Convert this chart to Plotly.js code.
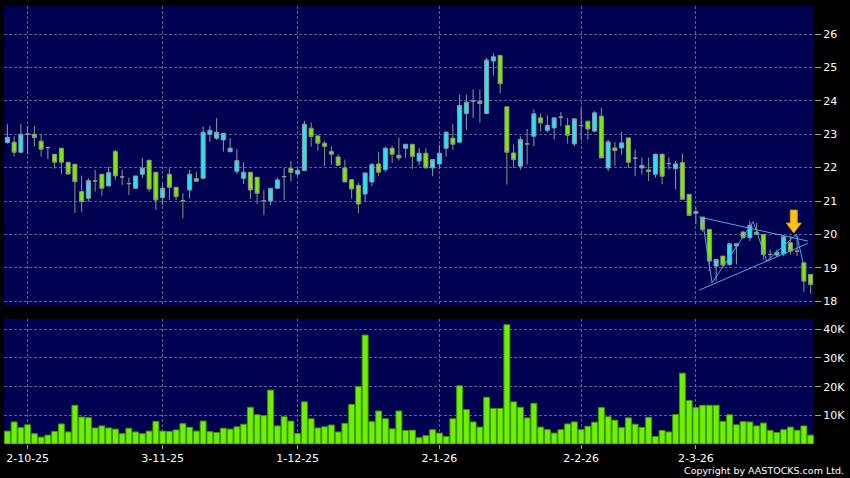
<!DOCTYPE html>
<html>
<head>
<meta charset="utf-8">
<script src="https://cdn.plot.ly/plotly-3.0.1.min.js"></script>
<style>
html,body{margin:0;padding:0;background:#000;}
#chart{width:850px;height:478px;}
</style>
</head>
<body>
<div id="chart"></div>
<script>
// Trading days (HKEX calendar) shown on the chart
const dates = [
 '2025-09-26','2025-09-29','2025-09-30',
 '2025-10-02','2025-10-03','2025-10-06','2025-10-08','2025-10-09','2025-10-10','2025-10-13','2025-10-14','2025-10-15','2025-10-16',
 '2025-10-17','2025-10-20','2025-10-21','2025-10-22','2025-10-23','2025-10-24','2025-10-27','2025-10-28','2025-10-30','2025-10-31',
 '2025-11-03','2025-11-04','2025-11-05','2025-11-06','2025-11-07','2025-11-10','2025-11-11','2025-11-12','2025-11-13','2025-11-14',
 '2025-11-17','2025-11-18','2025-11-19','2025-11-20','2025-11-21','2025-11-24','2025-11-25','2025-11-26','2025-11-27','2025-11-28',
 '2025-12-01','2025-12-02','2025-12-03','2025-12-04','2025-12-05','2025-12-08','2025-12-09','2025-12-10','2025-12-11','2025-12-12',
 '2025-12-15','2025-12-16','2025-12-17','2025-12-18','2025-12-19','2025-12-22','2025-12-23','2025-12-24','2025-12-29','2025-12-30','2025-12-31',
 '2026-01-02','2026-01-05','2026-01-06','2026-01-07','2026-01-08','2026-01-09','2026-01-12','2026-01-13','2026-01-14','2026-01-15','2026-01-16',
 '2026-01-19','2026-01-20','2026-01-21','2026-01-22','2026-01-23','2026-01-26','2026-01-27','2026-01-28','2026-01-29','2026-01-30',
 '2026-02-02','2026-02-03','2026-02-04','2026-02-05','2026-02-06','2026-02-09','2026-02-10','2026-02-11','2026-02-12','2026-02-13',
 '2026-02-16','2026-02-20','2026-02-23','2026-02-24','2026-02-25','2026-02-26','2026-02-27',
 '2026-03-02','2026-03-03','2026-03-04','2026-03-05','2026-03-06','2026-03-09','2026-03-10','2026-03-11','2026-03-12','2026-03-13',
 '2026-03-16','2026-03-17','2026-03-18','2026-03-19','2026-03-20','2026-03-23','2026-03-24','2026-03-25'
];

const open = [
 22.75,22.76,22.46,23.00,23.00,22.79,22.60,22.40,22.58,22.16,
 22.10,21.28,21.08,21.60,21.80,21.45,22.48,21.72,21.52,21.38,
 21.80,22.22,21.86,21.10,21.80,21.41,21.01,21.33,21.67,21.68,
 23.00,22.88,22.83,22.48,21.89,21.68,21.86,21.71,21.01,21.00,
 21.38,21.73,21.98,21.81,21.91,23.18,22.95,22.73,22.48,22.32,
 21.99,21.64,21.47,21.21,21.57,22.11,21.94,22.58,22.37,22.58,
 22.70,22.20,22.43,21.99,22.11,22.58,22.88,22.76,23.62,23.99,
 23.99,23.62,25.19,25.36,23.82,22.44,22.04,22.71,22.94,23.49,
 23.12,23.19,23.51,23.26,22.71,23.26,23.39,23.09,23.54,21.99,
 22.59,22.59,22.89,22.28,21.99,21.93,21.80,22.40,22.12,21.97,
 22.15,21.20,20.63,20.52,20.15,19.05,19.35,19.10,19.65,20.07,
 19.90,20.07,20.00,19.40,19.38,19.42,19.75,19.50,19.15,18.80
];
const high = [
 23.30,22.94,23.30,23.25,23.25,23.00,22.63,22.40,22.58,22.16,
 22.10,21.76,21.68,21.93,21.80,22.03,22.53,21.93,21.70,21.75,
 22.28,22.22,21.86,21.53,21.98,21.41,21.23,21.93,21.88,23.23,
 23.25,23.48,23.03,22.88,22.55,22.16,21.86,21.71,21.33,21.38,
 21.70,21.98,22.20,21.98,23.40,23.36,22.95,22.80,22.63,22.40,
 22.24,21.64,21.54,21.84,22.14,22.48,22.63,22.66,22.90,22.70,
 22.70,22.58,22.58,22.24,22.68,23.10,23.30,24.19,24.19,24.34,
 24.34,25.29,25.42,25.36,23.82,22.69,22.94,23.16,23.74,23.62,
 23.56,23.49,23.66,23.49,23.46,23.79,23.39,23.69,23.79,22.84,
 22.77,23.07,22.89,22.54,22.30,22.30,22.42,22.42,22.30,22.20,
 22.42,21.20,20.80,20.52,20.15,19.25,19.35,19.72,19.72,20.10,
 20.40,20.35,20.00,19.55,19.55,19.98,19.95,19.95,19.15,18.80
];
const low = [
 22.72,22.33,22.45,22.40,22.63,22.33,22.25,21.97,21.80,21.78,
 20.64,20.68,20.98,21.28,21.16,21.45,21.63,21.48,21.18,21.38,
 21.68,21.28,20.73,20.88,21.03,21.03,20.48,21.08,21.59,21.68,
 22.78,22.83,22.48,22.45,21.81,21.51,21.06,20.91,20.58,20.88,
 21.38,21.03,21.58,21.73,21.91,22.63,22.51,22.04,22.09,22.04,
 21.57,21.07,20.64,20.97,21.44,21.74,21.87,22.14,22.21,22.29,
 21.96,22.07,21.99,21.74,21.96,22.33,22.53,22.76,23.14,23.49,
 23.34,23.62,24.76,24.22,21.49,21.99,21.94,22.09,22.64,23.09,
 23.06,22.84,23.24,22.72,22.64,22.82,22.84,23.09,22.29,21.89,
 22.04,22.39,21.99,21.74,21.79,21.60,21.70,21.50,21.95,21.35,
 21.05,20.55,20.30,20.08,18.90,18.60,19.00,19.05,19.10,19.88,
 19.80,19.98,19.25,19.28,19.33,19.35,19.40,19.35,18.28,18.22
];
const close = [
 22.90,22.46,23.00,23.00,22.90,22.55,22.60,22.16,22.16,21.81,
 21.58,20.98,21.61,21.60,21.38,21.85,21.75,21.72,21.52,21.75,
 21.98,21.36,21.03,21.38,21.41,21.13,21.01,21.80,21.59,23.06,
 23.12,23.06,23.03,22.58,22.21,21.86,21.33,21.23,21.01,21.38,
 21.63,21.73,21.86,21.92,23.30,22.93,22.73,22.63,22.40,22.07,
 21.57,21.36,20.91,21.84,22.09,21.86,22.58,22.40,22.29,22.70,
 22.33,22.43,21.99,22.24,22.43,23.06,22.70,23.86,23.96,23.99,
 23.92,25.22,25.32,24.51,22.46,22.24,22.84,22.71,23.61,23.34,
 23.26,23.49,23.51,22.97,23.46,23.26,23.16,23.64,22.29,22.77,
 22.51,22.74,22.16,22.28,22.06,21.88,22.40,21.74,22.12,22.11,
 21.05,20.57,20.68,20.15,19.20,19.25,19.08,19.72,19.72,19.90,
 20.27,20.00,19.40,19.40,19.46,19.93,19.50,19.50,18.60,18.50
];
const volume = [
 4500,7700,5700,6700,3600,2400,3100,4400,7000,4200,
 13500,9400,9200,5600,6300,5600,5200,3600,5500,4200,
 3600,4500,7900,4500,4400,4900,7100,5800,4500,8000,
 4300,4000,5500,5200,6000,6900,12800,10200,9900,18800,
 6300,9500,8000,3700,14700,8800,5600,6000,6600,4200,
 7200,13800,20000,38000,7800,11500,8800,5300,11500,4700,
 4800,2200,2900,5000,3800,2600,8800,20300,12000,7700,
 5900,16300,12400,12400,41600,14700,12800,9100,14200,5900,
 5000,3800,5000,7000,7700,5000,6200,7600,12700,9500,
 8300,5700,9100,6900,5800,9300,2600,4700,4200,10300,
 24700,15200,12700,13500,13500,13500,7900,10200,6700,7800,
 7700,6300,7300,4700,4000,5000,5900,4800,6300,3100
];

// axis labels
const tickDates = ['2025-10-02','2025-11-03','2025-12-01','2026-01-02','2026-02-02','2026-03-02'];
const tickLabels = ['2-10-25','3-11-25','1-12-25','2-1-26','2-2-26','2-3-26'];
const priceTicks = [18,19,20,21,22,23,24,25,26];
const volTicks = [10000,20000,30000,40000];
const volTickLabels = ['10K','20K','30K','40K'];

// symmetric-triangle pattern drawn on the chart (x = trading-day position)
const triUpperX = [102.5, 118.6], triUpperY = [20.52, 19.80];
const triLowerX = [102.5, 118.6], triLowerY = [18.33, 19.73];
const zigX = [102.9, 104.4, 110.5, 112.5, 116.9, 117.9];
const zigY = [20.52, 18.55, 20.38, 19.20, 20.00, 19.15];
// breakout signal arrow (tip position)
const signalX = 116.5, signalY = 20.04;

const idx = dates.map((d, i) => i);
const tickVals = tickDates.map(d => dates.indexOf(d));

const gridCol = '#5E5E96';
const gridDash = '3px,2px';

const traces = [
  {
    type: 'candlestick', x: idx, open: open, high: high, low: low, close: close,
    xaxis: 'x', yaxis: 'y',
    increasing: {fillcolor: '#22E6F0', line: {color: '#8C9EAA', width: 1}},
    decreasing: {fillcolor: '#78EE00', line: {color: '#8A9A7C', width: 1}},
    whiskerwidth: 0, hoverinfo: 'skip', showlegend: false
  },
  {type: 'scatter', mode: 'lines', x: triUpperX, y: triUpperY, xaxis: 'x', yaxis: 'y',
   line: {color: '#4FA6E6', width: 1}, hoverinfo: 'skip', showlegend: false},
  {type: 'scatter', mode: 'lines', x: triLowerX, y: triLowerY, xaxis: 'x', yaxis: 'y',
   line: {color: '#4FA6E6', width: 1}, hoverinfo: 'skip', showlegend: false},
  {type: 'scatter', mode: 'lines', x: zigX, y: zigY, xaxis: 'x', yaxis: 'y',
   line: {color: '#4FA6E6', width: 1}, hoverinfo: 'skip', showlegend: false},
  {
    type: 'bar', x: idx, y: volume, xaxis: 'x2', yaxis: 'y2',
    marker: {color: '#6EF000', line: {color: '#3E9A00', width: 1}},
    hoverinfo: 'skip', showlegend: false
  }
];

const tickFont = {family: 'DejaVu Sans', size: 11, color: '#FFFFFF'};

const layout = {
  width: 850, height: 478,
  margin: {l: 4, r: 36, t: 6, b: 34, pad: 0},
  paper_bgcolor: '#000000',
  plot_bgcolor: '#000050',
  boxgap: 0.15,
  bargap: 0.12,
  showlegend: false,
  xaxis: {
    domain: [0, 1], anchor: 'y', range: [-0.5, 119.5],
    rangeslider: {visible: false},
    tickvals: tickVals, ticktext: tickLabels, showticklabels: false, ticks: '',
    showgrid: true, gridcolor: gridCol, griddash: gridDash, gridwidth: 1,
    zeroline: false, showline: false, fixedrange: true
  },
  xaxis2: {
    domain: [0, 1], anchor: 'y2', range: [-0.5, 119.5], matches: 'x',
    tickvals: tickVals, ticktext: tickLabels,
    ticks: 'outside', ticklen: 4, tickcolor: '#A0A0A0', tickwidth: 1,
    tickfont: tickFont,
    showgrid: true, gridcolor: gridCol, griddash: gridDash, gridwidth: 1,
    zeroline: false, showline: false, fixedrange: true
  },
  yaxis: {
    domain: [0.3174, 1], anchor: 'x', side: 'right', range: [17.886, 26.84],
    tickvals: priceTicks, ticktext: priceTicks.map(String),
    ticks: 'outside', ticklen: 6, tickcolor: '#A0A0A0', tickwidth: 1,
    tickfont: tickFont,
    showgrid: true, gridcolor: gridCol, griddash: gridDash, gridwidth: 1,
    zeroline: false, showline: false, fixedrange: true
  },
  yaxis2: {
    domain: [0, 0.2854], anchor: 'x2', side: 'right', range: [0, 43600],
    tickvals: volTicks, ticktext: volTickLabels,
    ticks: 'outside', ticklen: 6, tickcolor: '#A0A0A0', tickwidth: 1,
    tickfont: tickFont,
    showgrid: true, gridcolor: gridCol, griddash: gridDash, gridwidth: 1,
    zeroline: false, showline: false, fixedrange: true
  },
  shapes: [
    {
      type: 'path', xref: 'x', yref: 'y',
      xsizemode: 'pixel', ysizemode: 'pixel',
      xanchor: signalX, yanchor: signalY,
      path: 'M 0 0 L -7.5 10 L -3.5 10 L -3.5 23 L 3.5 23 L 3.5 10 L 7.5 10 Z',
      fillcolor: '#FFC21A', line: {color: '#D89000', width: 1}
    }
  ],
  annotations: [
    {
      text: 'Copyright by AASTOCKS.com Ltd.', xref: 'paper', yref: 'paper',
      x: 1.0395, y: -0.0616, xanchor: 'right', yanchor: 'middle', showarrow: false,
      font: {family: 'DejaVu Sans', size: 9.5, color: '#FFFFFF'}
    }
  ]
};

Plotly.newPlot('chart', traces, layout, {displayModeBar: false, staticPlot: true});
</script>
</body>
</html>
